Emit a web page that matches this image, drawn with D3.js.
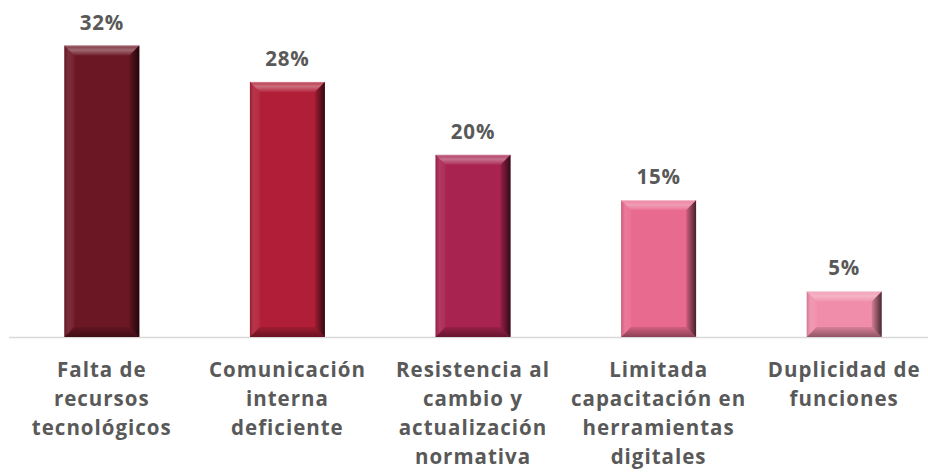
<!DOCTYPE html>
<html>
<head>
<meta charset="utf-8">
<script src="https://cdn.jsdelivr.net/npm/d3@7"></script>
<style>
  html, body { margin: 0; padding: 0; background: #fff; }
  svg { display: block; }
</style>
</head>
<body>
<div id="container"></div>
<script>
// chart data
var categories = [
    ["Falta de", "recursos", "tecnológicos"],
    ["Comunicación", "interna", "deficiente"],
    ["Resistencia al", "cambio y", "actualización", "normativa"],
    ["Limitada", "capacitación en", "herramientas", "digitales"],
    ["Duplicidad de", "funciones"]
];
var values = [32, 28, 20, 15, 5];
var barColors = ["#6c1724", "#b01f37", "#a8234f", "#e96a8f", "#f08daa"];

var svgWidth = 928, svgHeight = 473;
var baseline = 337;
var bevel = 10;
var fontFamily = "'Open Sans', 'Noto Sans', sans-serif";

var svg = d3.select("div#container")
    .append("svg")
    .attr("width", svgWidth)
    .attr("height", svgHeight);

var x = d3.scaleBand()
    .domain(d3.range(values.length))
    .range([9, 937])
    .paddingInner(0.596)
    .paddingOuter(0.298);

var y = d3.scaleLinear()
    .domain([0, 32])
    .range([baseline, 45.5]);

// gradients for the bevel faces
var defs = svg.append("defs");

var gTop = defs.append("linearGradient").attr("id", "gTop")
    .attr("x1", 0).attr("y1", 0).attr("x2", 0).attr("y2", 1);
gTop.append("stop").attr("offset", "0%").attr("stop-color", "#fff").attr("stop-opacity", 0.12);
gTop.append("stop").attr("offset", "45%").attr("stop-color", "#fff").attr("stop-opacity", 0.35);
gTop.append("stop").attr("offset", "100%").attr("stop-color", "#fff").attr("stop-opacity", 0.05);

var gLeft = defs.append("linearGradient").attr("id", "gLeft")
    .attr("x1", 0).attr("y1", 0).attr("x2", 1).attr("y2", 0);
gLeft.append("stop").attr("offset", "0%").attr("stop-color", "#000").attr("stop-opacity", 0.15);
gLeft.append("stop").attr("offset", "40%").attr("stop-color", "#fff").attr("stop-opacity", 0.1);
gLeft.append("stop").attr("offset", "100%").attr("stop-color", "#fff").attr("stop-opacity", 0.05);

var gRight = defs.append("linearGradient").attr("id", "gRight")
    .attr("x1", 0).attr("y1", 0).attr("x2", 1).attr("y2", 0);
gRight.append("stop").attr("offset", "0%").attr("stop-color", "#000").attr("stop-opacity", 0.1);
gRight.append("stop").attr("offset", "100%").attr("stop-color", "#000").attr("stop-opacity", 0.7);

var gBottom = defs.append("linearGradient").attr("id", "gBottom")
    .attr("x1", 0).attr("y1", 0).attr("x2", 0).attr("y2", 1);
gBottom.append("stop").attr("offset", "0%").attr("stop-color", "#000").attr("stop-opacity", 0.1);
gBottom.append("stop").attr("offset", "100%").attr("stop-color", "#000").attr("stop-opacity", 0.4);

// axis line
svg.append("line")
    .attr("x1", 9).attr("x2", svgWidth)
    .attr("y1", baseline + 0.5).attr("y2", baseline + 0.5)
    .attr("stroke", "#d9d9d9")
    .attr("stroke-width", 1.5);

var bars = svg.selectAll(".bar")
    .data(values)
    .enter()
    .append("g")
    .attr("class", "bar");

bars.append("rect")
    .attr("x", function (d, i) { return x(i); })
    .attr("y", function (d) { return y(d); })
    .attr("width", x.bandwidth())
    .attr("height", function (d) { return y(0) - y(d); })
    .attr("fill", function (d, i) { return barColors[i]; });

function face(d, i, side) {
    var x0 = x(i), x1 = x(i) + x.bandwidth(), y0 = y(d), y1 = y(0);
    var b = Math.min(bevel, (y1 - y0) / 2);
    var pts;
    if (side == "top") pts = [[x0, y0], [x1, y0], [x1 - b, y0 + b], [x0 + b, y0 + b]];
    if (side == "left") pts = [[x0, y0], [x0 + b, y0 + b], [x0 + b, y1 - b], [x0, y1]];
    if (side == "right") pts = [[x1, y0], [x1, y1], [x1 - b, y1 - b], [x1 - b, y0 + b]];
    if (side == "bottom") pts = [[x0, y1], [x0 + b, y1 - b], [x1 - b, y1 - b], [x1, y1]];
    return pts.map(function (p) { return p.join(","); }).join(" ");
}

["top", "left", "right", "bottom"].forEach(function (side) {
    var id = "g" + side.charAt(0).toUpperCase() + side.slice(1);
    bars.append("polygon")
        .attr("points", function (d, i) { return face(d, i, side); })
        .attr("fill", "url(#" + id + ")");
});

// thin bright line on top edge
bars.append("line")
    .attr("x1", function (d, i) { return x(i) + 1; })
    .attr("x2", function (d, i) { return x(i) + x.bandwidth() - 1; })
    .attr("y1", function (d) { return y(d) + 0.5; })
    .attr("y2", function (d) { return y(d) + 0.5; })
    .attr("stroke", "#fff")
    .attr("stroke-opacity", 0.3);

// value labels
svg.selectAll(".valueLabel")
    .data(values)
    .enter()
    .append("text")
    .attr("class", "valueLabel")
    .attr("x", function (d, i) { return x(i) + x.bandwidth() / 2; })
    .attr("y", function (d) { return y(d) - 16; })
    .attr("text-anchor", "middle")
    .style("font-family", fontFamily)
    .style("font-weight", "bold")
    .style("font-size", "20.5px")
    .style("letter-spacing", "0.8px")
    .style("fill", "#595959")
    .text(function (d) { return d + "%"; });

// category labels
var catLabels = svg.selectAll(".catLabel")
    .data(categories)
    .enter()
    .append("text")
    .attr("class", "catLabel")
    .attr("text-anchor", "middle")
    .style("font-family", fontFamily)
    .style("font-weight", "bold")
    .style("font-size", "20.5px")
    .style("letter-spacing", "1px")
    .style("fill", "#595959");

catLabels.selectAll("tspan")
    .data(function (d, i) { return d.map(function (t) { return { t: t, i: i }; }); })
    .enter()
    .append("tspan")
    .attr("x", function (d) { return x(d.i) + x.bandwidth() / 2; })
    .attr("y", function (d, j) { return 377 + j * 29; })
    .text(function (d) { return d.t; });
</script>
</body>
</html>
